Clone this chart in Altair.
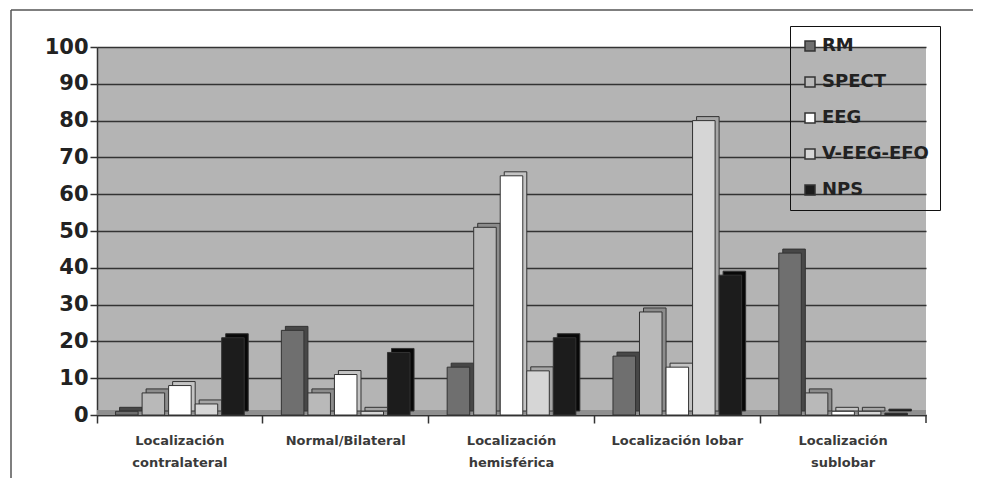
import altair as alt
import pandas as pd

categories = ["Localización contralateral", "Normal/Bilateral", "Localización hemisférica",
              "Localización lobar", "Localización sublobar"]
series = ["RM", "SPECT", "EEG", "V-EEG-EFO", "NPS"]
rm = [1, 23, 13, 16, 44]
spect = [6, 6, 51, 28, 6]
eeg = [8, 11, 65, 13, 1]
veeg = [3, 1, 12, 80, 1]
nps = [21, 17, 21, 38, 0.5]
front_colors = ["#6f6f6f", "#b9b9b9", "#ffffff", "#d6d6d6", "#1c1c1c"]
side_colors = ["#474747", "#8c8c8c", "#c4c4c4", "#a6a6a6", "#080808"]
y_ticks = list(range(0, 101, 10))

values = [rm, spect, eeg, veeg, nps]
rows = []
for s, vals in zip(series, values):
    for c, v in zip(categories, vals):
        rows.append({"Categoria": c, "Serie": s, "Valor": v})
df = pd.DataFrame(rows)

FONT = "DejaVu Sans"

x_enc = alt.X("Categoria:N", sort=categories,
              scale=alt.Scale(paddingInner=0, paddingOuter=0),
              axis=alt.Axis(title=None, labelAngle=0, bandPosition=0,
                            labelExpr="indexof(['Normal/Bilateral','Localización lobar'], datum.label) >= 0 ? datum.label : split(datum.label, ' ')",
                            labelFont=FONT, labelFontWeight="bold", labelFontSize=13,
                            labelColor="#3a3a3a", labelLineHeight=22, labelPadding=11,
                            tickSize=8, tickColor="#333", tickWidth=1.5,
                            domainColor="#333", domainWidth=1.5, grid=False))
y_enc = alt.Y("Valor:Q", scale=alt.Scale(domain=[0, 100]),
              axis=alt.Axis(title=None, values=y_ticks, grid=True, gridColor="#333",
                            gridWidth=1.5, domainColor="#333", domainWidth=1.5,
                            tickColor="#333", tickSize=7, tickWidth=1.5,
                            labelFont=FONT, labelFontWeight="bold", labelFontSize=21,
                            labelColor="#222", labelPadding=2))

side = alt.Chart(df).mark_bar(yOffset=-4, stroke="#333", strokeWidth=1).encode(
    x=x_enc, y=y_enc,
    xOffset=alt.XOffset("Serie:N", sort=series,
                        scale=alt.Scale(paddingInner=0.15, paddingOuter=0.7, align=0.608)),
    color=alt.Color("Serie:N", scale=alt.Scale(domain=series, range=side_colors), legend=None)
)
front = alt.Chart(df).mark_bar(stroke="#333", strokeWidth=1).encode(
    x=x_enc, y=y_enc,
    xOffset=alt.XOffset("Serie:N", sort=series,
                        scale=alt.Scale(paddingInner=0.15, paddingOuter=0.7)),
    color=alt.Color("Serie:N", scale=alt.Scale(domain=series, range=front_colors),
                    legend=alt.Legend(title=None, orient="none", legendX=693, legendY=-21,
                                      strokeColor="#111", padding=11,
                                      labelFont=FONT, labelFontWeight="bold",
                                      labelFontSize=18, labelColor="#222",
                                      symbolType="square", symbolSize=100,
                                      symbolStrokeColor="#333", symbolStrokeWidth=1.5,
                                      rowPadding=18, labelOffset=3))
)

one = pd.DataFrame({"k": [0]})
floor = alt.Chart(one).mark_rect(color="#8f8f8f").encode(
    x=alt.value(0), x2=alt.value(829), y=alt.value(363), y2=alt.value(368))
end_tick = alt.Chart(one).mark_rule(color="#333", strokeWidth=1.5).encode(
    x=alt.value(829), y=alt.value(368), y2=alt.value(376))
frame_top = alt.Chart(one).mark_rule(color="#555", strokeWidth=1.5).encode(
    x=alt.value(-86), x2=alt.value(900), y=alt.value(-37))
frame_left = alt.Chart(one).mark_rule(color="#555", strokeWidth=1.5).encode(
    x=alt.value(-86), y=alt.value(-37), y2=alt.value(440))

chart = alt.layer(floor, side, front, end_tick, frame_top, frame_left).resolve_scale(
    color="independent", xOffset="independent"
).properties(
    width=829, height=368, autosize="none",
    padding={"left": 89, "top": 39, "right": 47, "bottom": 63}
).configure_view(fill="#b4b4b4", strokeWidth=0)

chart.save("out.html", embed_options={"renderer": "svg", "actions": False})
